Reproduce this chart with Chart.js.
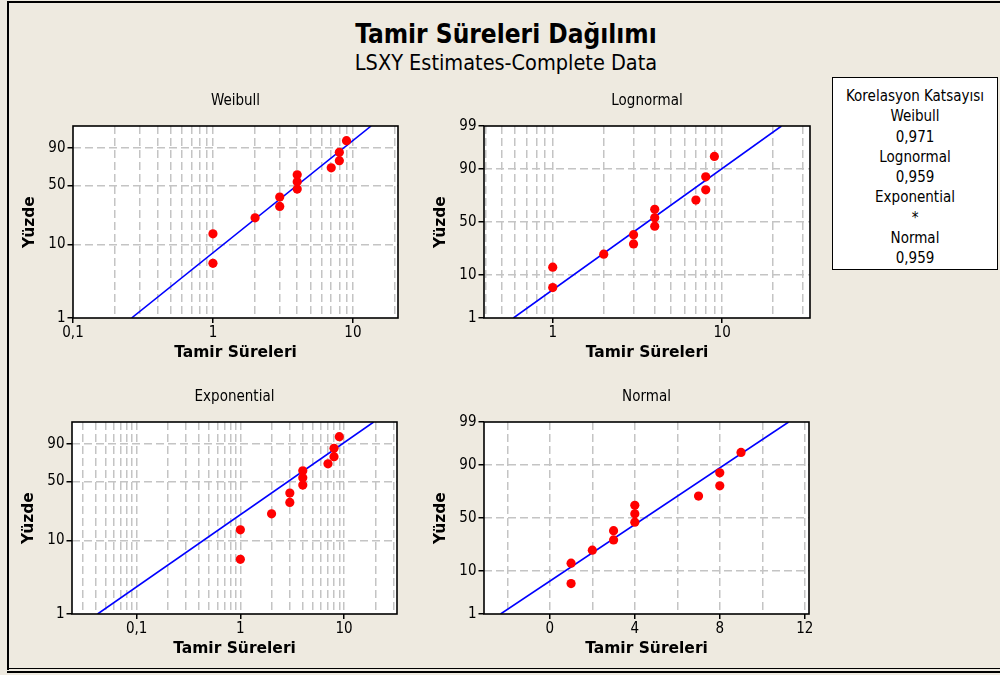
<!DOCTYPE html>
<html lang="tr">
<head>
<meta charset="utf-8">
<title>Tamir Süreleri Dağılımı</title>
<script src="https://cdn.jsdelivr.net/npm/chart.js@4.4.1/dist/chart.umd.min.js"></script>
<style>
  html, body { margin: 0; padding: 0; }
  body {
    width: 1000px; height: 675px; position: relative; overflow: hidden;
    background: #EEEAE0;
    font-family: "DejaVu Sans Condensed", "DejaVu Sans", sans-serif;
    color: #000;
  }
  .rule { position: absolute; background: #000; }
  canvas { position: absolute; }
  .head { position: absolute; left: 0; width: 1012px; text-align: center; white-space: nowrap; }
  #mainTitle { top: 21px; font-size: 26px; line-height: 26px; font-weight: bold; }
  #subTitle { top: 52px; font-size: 21.5px; line-height: 21.5px; }
  #corrBox {
    position: absolute; left: 832px; top: 77px; width: 166px; height: 193px;
    box-sizing: border-box; border: 1px solid #000; background: #fff;
    padding-top: 8px; text-align: center; font-size: 15px; line-height: 20.3px;
    white-space: nowrap;
  }
</style>
</head>
<body>
<div class="rule" style="left:7px;top:1px;width:993px;height:2px"></div>
<div class="rule" style="left:7px;top:1px;width:2px;height:669px"></div>
<div class="rule" style="left:9px;top:668px;width:991px;height:1px"></div>
<div class="rule" style="left:7px;top:671px;width:993px;height:2px"></div>

<div id="mainTitle" class="head">Tamir Süreleri Dağılımı</div>
<div id="subTitle" class="head">LSXY Estimates-Complete Data</div>
<div id="corrBox"></div>

<script>
// Repair times and their median-rank plotting positions (%)
const repairTimes = [1, 1, 2, 3, 3, 4, 4, 4, 7, 8, 8, 9];
const plottingPercent = [5.6, 13.7, 21.8, 29.8, 37.9, 46.0, 54.0, 62.1, 70.2, 78.2, 86.3, 94.4];

// Fitted lines: repair time at 1 % and at 99 %
const fitPercent = [1, 99];
const weibullFitTime = [0.262, 13.5];
const lognormalFitTime = [0.586, 22.4];
const exponentialFitTime = [0.042, 19.3];
const normalFitTime = [-2.32, 11.24];

// Percent axis
const percentTicks = [1, 10, 50, 90, 99];
const percentLabels = ['1', '10', '50', '90', '99'];

// Time axes: grid positions and labelled values
const weibullTimeGrid = [0.1, 0.2, 0.3, 0.4, 0.5, 0.6, 0.7, 0.8, 0.9, 1, 2, 3, 4, 5, 6, 7, 8, 9, 10, 20];
const lognormalTimeGrid = [0.4, 0.5, 0.6, 0.7, 0.8, 0.9, 1, 2, 3, 4, 5, 6, 7, 8, 9, 10, 20, 30];
const exponentialTimeGrid = [0.03, 0.04, 0.05, 0.06, 0.07, 0.08, 0.09, 0.1, 0.2, 0.3, 0.4, 0.5, 0.6, 0.7, 0.8, 0.9,
                             1, 2, 3, 4, 5, 6, 7, 8, 9, 10, 20, 30];
const normalTimeGrid = [-2, 0, 2, 4, 6, 8, 10, 12];
const logTimeLabelValues = [0.1, 1, 10];
const logTimeLabels = ['0,1', '1', '10'];
const normalTimeLabelValues = [0, 4, 8, 12];
const normalTimeLabels = ['0', '4', '8', '12'];

// Correlation coefficients of the fits
const fitNames = ['Weibull', 'Lognormal', 'Exponential', 'Normal'];
const correlations = ['0,971', '0,959', '*', '0,959'];

const COND = '"DejaVu Sans Condensed", "DejaVu Sans", sans-serif';
const BOLD = '"DejaVu Sans", sans-serif';
const GRID_GRAY = '#C4C4C4';
const NONE = 'rgba(0,0,0,0)';

// ---- correlation box ----
(function () {
  const box = document.getElementById('corrBox');
  const lines = ['Korelasyon Katsayısı'];
  fitNames.forEach((n, i) => { lines.push(n); lines.push(correlations[i]); });
  box.innerHTML = lines.map(t => '<div>' + t + '</div>').join('');
})();

// ---- probability paper scale (normal or Weibull/smallest extreme value) ----
function normalQuantile(p) {
  const a = [-3.969683028665376e+01, 2.209460984245205e+02, -2.759285104469687e+02,
             1.383577518672690e+02, -3.066479806614716e+01, 2.506628277459239e+00];
  const b = [-5.447609879822406e+01, 1.615858368580409e+02, -1.556989798598866e+02,
             6.680131188771972e+01, -1.328068155288572e+01];
  const c = [-7.784894002430293e-03, -3.223964580411365e-01, -2.400758277161838e+00,
             -2.549732539343734e+00, 4.374664141464968e+00, 2.938163982698783e+00];
  const d = [7.784695709041462e-03, 3.224671290700398e-01, 2.445134137142996e+00,
             3.754408661907416e+00];
  const pl = 0.02425;
  let q, r;
  if (p < pl) {
    q = Math.sqrt(-2 * Math.log(p));
    return (((((c[0] * q + c[1]) * q + c[2]) * q + c[3]) * q + c[4]) * q + c[5]) /
           ((((d[0] * q + d[1]) * q + d[2]) * q + d[3]) * q + 1);
  }
  if (p <= 1 - pl) {
    q = p - 0.5; r = q * q;
    return (((((a[0] * r + a[1]) * r + a[2]) * r + a[3]) * r + a[4]) * r + a[5]) * q /
           (((((b[0] * r + b[1]) * r + b[2]) * r + b[3]) * r + b[4]) * r + 1);
  }
  q = Math.sqrt(-2 * Math.log(1 - p));
  return -(((((c[0] * q + c[1]) * q + c[2]) * q + c[3]) * q + c[4]) * q + c[5]) /
          ((((d[0] * q + d[1]) * q + d[2]) * q + d[3]) * q + 1);
}

class ProbabilityScale extends Chart.Scale {
  static id = 'probability';
  static defaults = {};
  _t(v) {
    const p = v / 100;
    return this.options.paper === 'weibull' ? Math.log(-Math.log(1 - p)) : normalQuantile(p);
  }
  determineDataLimits() {
    this.min = this.options.min;
    this.max = this.options.max;
  }
  buildTicks() { return []; }
  getLabelForValue(v) { return String(v); }
  configure() {
    super.configure();
    this._t0 = this._t(this.min);
    this._t1 = this._t(this.max);
  }
  getPixelForValue(v) {
    return this.getPixelForDecimal((this._t(v) - this._t0) / (this._t1 - this._t0));
  }
  getValueForPixel(px) {
    const target = this.getDecimalForPixel(px);
    let lo = this.min, hi = this.max;
    for (let k = 0; k < 50; k++) {
      const mid = (lo + hi) / 2;
      const d = (this._t(mid) - this._t0) / (this._t1 - this._t0);
      if (d < target) lo = mid; else hi = mid;
    }
    return (lo + hi) / 2;
  }
}
Chart.register(ProbabilityScale);

// white plotting area with a black frame
const plotFrame = {
  id: 'plotFrame',
  beforeDraw(chart) {
    const { ctx, chartArea: a } = chart;
    ctx.save();
    ctx.fillStyle = '#FFFFFF';
    ctx.fillRect(a.left, a.top, a.right - a.left, a.bottom - a.top);
    ctx.restore();
  },
  afterDraw(chart) {
    const { ctx, chartArea: a } = chart;
    ctx.save();
    ctx.strokeStyle = '#000';
    ctx.lineWidth = 1.6;
    ctx.strokeRect(a.left, a.top, a.right - a.left, a.bottom - a.top);
    ctx.restore();
  }
};

const same = (a, b) => Math.abs(a - b) <= 1e-7 * Math.max(1, Math.abs(a), Math.abs(b));
const lookup = (values, labels) => v => {
  const i = values.findIndex(u => same(u, v));
  return i < 0 ? '' : labels[i];
};

const PAD_LEFT = 60, PAD_TOP = 40, PAD_RIGHT = 12, PAD_BOTTOM = 45;

function makePanel(cfg) {
  const [l, t, r, b] = cfg.plot;
  const canvas = document.createElement('canvas');
  canvas.width = (r - l) + PAD_LEFT + PAD_RIGHT;
  canvas.height = (b - t) + PAD_TOP + PAD_BOTTOM;
  canvas.style.left = (l - PAD_LEFT) + 'px';
  canvas.style.top = (t - PAD_TOP) + 'px';
  document.body.appendChild(canvas);

  const xLabel = lookup(cfg.xLabelValues, cfg.xLabels);
  const yTicks = cfg.yTicks;
  const yLabel = lookup(yTicks, cfg.yLabels);
  const xMin = cfg.xMin, xMax = cfg.xMax;
  const onEdge = (v, lo, hi) => same(v, lo) || same(v, hi);

  new Chart(canvas, {
    type: 'scatter',
    data: {
      datasets: [
        {
          label: 'Veri',
          data: repairTimes.map((x, i) => ({ x, y: plottingPercent[i] })),
          pointStyle: 'circle',
          pointRadius: 4.6,
          pointBorderWidth: 0,
          pointBackgroundColor: '#FF0000',
          pointBorderColor: '#FF0000',
          showLine: false
        },
        {
          label: 'Uyum',
          data: cfg.fitTime.map((x, i) => ({ x, y: fitPercent[i] })),
          showLine: true,
          borderColor: '#0000FF',
          borderWidth: 1.6,
          pointRadius: 0,
          fill: false
        }
      ]
    },
    options: {
      responsive: false,
      animation: false,
      events: [],
      layout: { padding: { left: 0, top: 0, right: PAD_RIGHT, bottom: 0 }, autoPadding: false },
      plugins: {
        legend: { display: false },
        tooltip: { enabled: false },
        title: {
          display: true,
          text: cfg.title,
          fullSize: false,
          color: '#000',
          font: { family: COND, size: 15, weight: 'normal', lineHeight: 1.2 },
          padding: { top: 6.5, bottom: PAD_TOP - 6.5 - 18 }
        }
      },
      scales: {
        x: {
          type: cfg.xType,
          position: 'bottom',
          min: xMin,
          max: xMax,
          bounds: 'data',
          afterBuildTicks: s => { s.ticks = cfg.xGrid.map(v => ({ value: v })); },
          afterFit: s => { s.height = PAD_BOTTOM; s.paddingLeft = 0; s.paddingRight = 0; },
          ticks: {
            autoSkip: false, maxRotation: 0, minRotation: 0, padding: 1.5,
            color: '#000', font: { family: COND, size: 15 },
            callback: v => xLabel(v)
          },
          grid: {
            lineWidth: 1.5,
            color: c => onEdge(c.tick.value, xMin, xMax) ? NONE : GRID_GRAY,
            tickLength: 5,
            tickWidth: 1.5,
            tickColor: c => xLabel(c.tick.value) ? '#000' : NONE
          },
          border: { display: false, dash: [8, 4] },
          title: {
            display: true, text: 'Tamir Süreleri', color: '#000',
            font: { family: BOLD, size: 15.5, weight: 'bold' },
            padding: { top: 0, bottom: 1 }
          }
        },
        y: {
          type: 'probability',
          paper: cfg.paper,
          position: 'left',
          min: 1,
          max: 99,
          afterBuildTicks: s => { s.ticks = yTicks.map(v => ({ value: v })); },
          afterFit: s => { s.width = PAD_LEFT; s.paddingTop = 0; s.paddingBottom = 0; },
          ticks: {
            autoSkip: false, padding: 2,
            color: '#000', font: { family: COND, size: 15 },
            callback: v => yLabel(v)
          },
          grid: {
            lineWidth: 1.5,
            color: c => onEdge(c.tick.value, 1, 99) ? NONE : GRID_GRAY,
            tickLength: 5.5,
            tickWidth: 1.5,
            tickColor: c => yLabel(c.tick.value) ? '#000' : NONE
          },
          border: { display: false, dash: [8, 4] },
          title: {
            display: true, text: 'Yüzde', color: '#000',
            font: { family: BOLD, size: 15.5, weight: 'bold' },
            padding: { top: 7.7, bottom: 0 }
          }
        }
      }
    },
    plugins: [plotFrame]
  });
}

makePanel({
  title: 'Weibull', plot: [73, 126, 398, 318], paper: 'weibull',
  xType: 'logarithmic', xMin: 0.1, xMax: 21, xGrid: weibullTimeGrid,
  xLabelValues: logTimeLabelValues, xLabels: logTimeLabels,
  yTicks: percentTicks.slice(0, 4), yLabels: percentLabels.slice(0, 4),
  fitTime: weibullFitTime
});
makePanel({
  title: 'Lognormal', plot: [484, 126, 810, 318], paper: 'normal',
  xType: 'logarithmic', xMin: 0.393, xMax: 33, xGrid: lognormalTimeGrid,
  xLabelValues: logTimeLabelValues, xLabels: logTimeLabels,
  yTicks: percentTicks, yLabels: percentLabels,
  fitTime: lognormalFitTime
});
makePanel({
  title: 'Exponential', plot: [72, 422, 397, 614], paper: 'weibull',
  xType: 'logarithmic', xMin: 0.0238, xMax: 32.4, xGrid: exponentialTimeGrid,
  xLabelValues: logTimeLabelValues, xLabels: logTimeLabels,
  yTicks: percentTicks.slice(0, 4), yLabels: percentLabels.slice(0, 4),
  fitTime: exponentialFitTime
});
makePanel({
  title: 'Normal', plot: [484, 422, 809, 614], paper: 'normal',
  xType: 'linear', xMin: -3.1, xMax: 12.2, xGrid: normalTimeGrid,
  xLabelValues: normalTimeLabelValues, xLabels: normalTimeLabels,
  yTicks: percentTicks, yLabels: percentLabels,
  fitTime: normalFitTime
});
</script>
</body>
</html>
